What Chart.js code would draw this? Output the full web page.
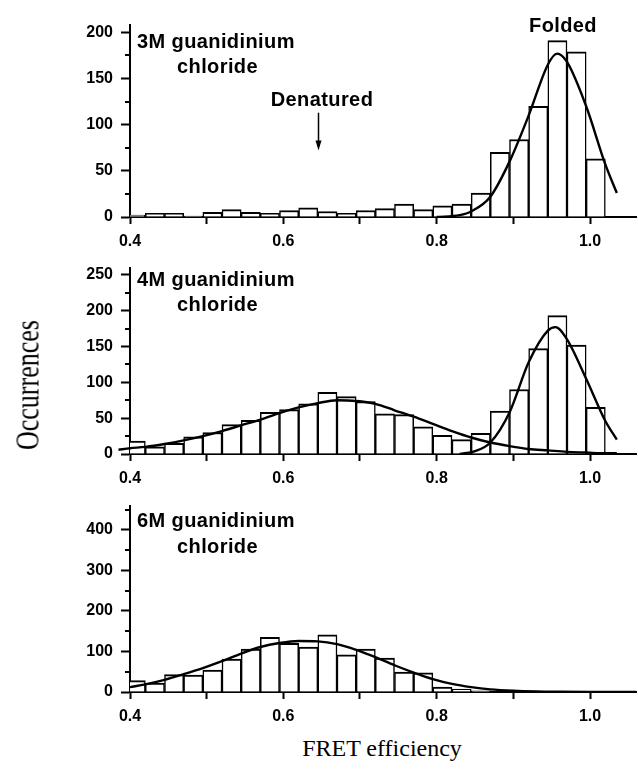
<!DOCTYPE html>
<html>
<head>
<meta charset="utf-8">
<script src="https://cdn.jsdelivr.net/npm/chart.js@4.4.0/dist/chart.umd.min.js"></script>
<style>
  body { margin: 0; background: #fff; width: 638px; height: 771px; position: relative; overflow: hidden;
         font-family: "Liberation Sans", Arial, sans-serif; }
  .pane { position: absolute; left: 0; width: 638px; }
  .lbl { position: absolute; font-weight: bold; font-size: 20px; letter-spacing: 0.4px; color: #000;
         white-space: nowrap; line-height: 1; transform: translateY(-50%); }
  .ctr { transform: translate(-50%, -50%); }
  .ttl { position: absolute; font-family: "Liberation Serif", "Times New Roman", serif; font-size: 24px;
         color: #000; white-space: nowrap; line-height: 1; transform: translate(-50%, -50%); }
</style>
</head>
<body>
<div class="pane" style="top:0;height:253px"><canvas id="c3M"></canvas></div>
<div class="pane" style="top:250px;height:240px"><canvas id="c4M"></canvas></div>
<div class="pane" style="top:488px;height:240px"><canvas id="c6M"></canvas></div>

<div class="lbl ctr" style="left:563px;top:25px">Folded</div>
<div class="lbl" style="left:137px;top:41px">3M guanidinium</div>
<div class="lbl" style="left:177px;top:66px">chloride</div>
<div class="lbl ctr" style="left:322px;top:99px">Denatured</div>
<div class="lbl" style="left:137px;top:279px">4M guanidinium</div>
<div class="lbl" style="left:177px;top:304px">chloride</div>
<div class="lbl" style="left:137px;top:520px">6M guanidinium</div>
<div class="lbl" style="left:177px;top:546px">chloride</div>
<div class="ttl" style="left:28px;top:385px;font-size:26px;transform:translate(-50%,-50%) rotate(-90deg) scaleY(1.3)">Occurrences</div>
<div class="ttl" style="left:382px;top:748px">FRET efficiency</div>

<script>
// histogram bins (width 0.025), centres on FRET efficiency
var binCenters = [0.4075, 0.4325, 0.4575, 0.4825, 0.5075, 0.5325, 0.5575, 0.5825, 0.6075, 0.6325,
                  0.6575, 0.6825, 0.7075, 0.7325, 0.7575, 0.7825, 0.8075, 0.8325, 0.8575, 0.8825,
                  0.9075, 0.9325, 0.9575, 0.9825, 1.0075];

var counts3M = [2, 4, 4, 1, 5, 8, 5, 4, 7, 10, 6, 4, 7, 9, 14, 8, 12, 14, 26, 70, 84, 120, 191, 179, 63];
var counts4M = [18, 10, 15, 24, 30, 41, 47, 58, 62, 70, 86, 80, 73, 56, 55, 38, 26, 20, 29, 60, 90, 147, 193, 152, 65];
var counts6M = [28, 22, 43, 42, 54, 81, 106, 135, 120, 111, 141, 92, 106, 84, 49, 47, 12, 7, 3, 0, 0, 0, 0, 0, 0];

// fitted curves
var fit3M_x = [0.80, 0.83, 0.845, 0.87, 0.895, 0.92, 0.945, 0.957, 0.97, 0.995, 1.02, 1.035];
var fit3M_y = [0, 2, 6, 22, 60, 110, 165, 177, 168, 120, 57, 26];

var fit4Mden_x = [0.385, 0.40, 0.42, 0.445, 0.47, 0.495, 0.52, 0.545, 0.57, 0.595, 0.62, 0.645, 0.67, 0.695,
                  0.72, 0.745, 0.77, 0.795, 0.82, 0.845, 0.87, 0.895, 0.92, 0.945, 0.97, 0.995, 1.02, 1.035];
var fit4Mden_y = [6, 8, 10, 14, 19, 25, 32, 40, 48, 57, 65, 71, 75, 74, 70, 61, 52, 42, 32, 23, 16, 11, 7, 5, 3, 2, 1, 1];
var fit4Mfold_x = [0.83, 0.85, 0.87, 0.895, 0.92, 0.945, 0.955, 0.97, 0.995, 1.02, 1.035];
var fit4Mfold_y = [0, 4, 16, 58, 128, 172, 177, 160, 105, 46, 20];

var fit6M_x = [0.40, 0.42, 0.445, 0.47, 0.495, 0.52, 0.545, 0.57, 0.595, 0.62, 0.645, 0.67, 0.695, 0.72,
               0.745, 0.77, 0.795, 0.82, 0.845, 0.87, 0.90, 0.93, 0.96, 1.00, 1.06];
var fit6M_y = [12, 19, 30, 44, 59, 76, 95, 111, 121, 126, 125, 118, 104, 86, 66, 48, 32, 20, 12, 6.5, 3, 1.2, 0.5, 0.1, 0];

var xTickValues = [0.4, 0.5, 0.6, 0.7, 0.8, 0.9, 1.0];
var xTickLabels = ['0.4', '0.6', '0.8', '1.0'];

var tickFont = { family: '"Liberation Sans", Arial, sans-serif', weight: 'bold', size: 16 };

/* short unlabeled ticks on the y axis */
var minorTicks = {
  id: 'minorTicks',
  afterDraw: function(chart, args, opts) {
    var y = chart.scales.y, ctx = chart.ctx;
    ctx.save();
    ctx.strokeStyle = '#000';
    ctx.lineWidth = 2;
    for (var v = opts.step; v < y.max; v += opts.step) {
      if (v % opts.major === 0) continue;
      var py = Math.round(y.getPixelForValue(v));
      ctx.beginPath(); ctx.moveTo(y.right - 5, py); ctx.lineTo(y.right, py); ctx.stroke();
    }
    ctx.restore();
  }
};

/* the "Denatured" arrow */
var arrowMark = {
  id: 'arrowMark',
  afterDraw: function(chart, args, opts) {
    var ctx = chart.ctx;
    var px = Math.round(chart.scales.x.getPixelForValue(opts.x)) + 0.5;
    var y1 = chart.scales.y.getPixelForValue(opts.from), y2 = chart.scales.y.getPixelForValue(opts.to);
    ctx.save();
    ctx.strokeStyle = '#000'; ctx.fillStyle = '#000'; ctx.lineWidth = 1.5;
    ctx.beginPath(); ctx.moveTo(px, y1); ctx.lineTo(px, y2 - 8); ctx.stroke();
    ctx.beginPath(); ctx.moveTo(px - 3, y2 - 10); ctx.lineTo(px + 3, y2 - 10); ctx.lineTo(px, y2); ctx.closePath(); ctx.fill();
    ctx.restore();
  }
};

function panel(id, counts, fits, yMax, major, minor, padTop, extra) {
  var datasets = fits.map(function(f) {
    var ds = {
      type: 'line',
      data: f.x.map(function(x, i) { return { x: x, y: f.y[i] }; }),
      borderColor: '#000', borderWidth: 2.4, pointRadius: 0,
      cubicInterpolationMode: 'monotone', fill: false, order: 0
    };
    if (f.noclip) ds.clip = false;
    return ds;
  });
  datasets.push({
    type: 'bar',
    data: binCenters.map(function(x, i) { return { x: x, y: counts[i] }; }),
    backgroundColor: '#fff', borderColor: '#000',
    borderWidth: { top: 2, left: 1.5, right: 1.5, bottom: 0 }, borderSkipped: false,
    barPercentage: 1, categoryPercentage: 1, grouped: false, order: 1
  });

  var plugins = [minorTicks];
  var pluginOpts = { legend: { display: false }, tooltip: { enabled: false },
                     minorTicks: { step: minor, major: major } };
  if (extra) { plugins.push(arrowMark); pluginOpts.arrowMark = extra; }

  return new Chart(document.getElementById(id), {
    type: 'bar',
    data: { datasets: datasets },
    plugins: plugins,
    options: {
      responsive: true, maintainAspectRatio: false, animation: false, events: [],
      layout: { padding: { top: padTop, right: 2, left: 0, bottom: 0 } },
      plugins: pluginOpts,
      scales: {
        x: {
          type: 'linear', min: 0.4, max: 1.06, bounds: 'data', offset: false,
          ticks: {
            autoSkip: false, maxRotation: 0, padding: 8,
            color: '#000', font: tickFont,
            callback: function(v) {
              var lab = v.toFixed(1);
              return xTickLabels.indexOf(lab) >= 0 ? lab : '';
            }
          },
          grid: { display: true, offset: false, drawOnChartArea: false, tickLength: 7, tickWidth: 2, tickColor: '#000' },
          border: { display: true, color: '#000', width: 2 },
          afterBuildTicks: function(s) {
            s.ticks = xTickValues.map(function(v) { return { value: v }; });
          },
          afterFit: function(s) { s.height = 36; }
        },
        y: {
          min: 0, max: yMax, bounds: 'data',
          ticks: { stepSize: major, padding: 8, color: '#000', font: tickFont },
          grid: { display: true, drawOnChartArea: false, tickLength: 9, tickWidth: 2, tickColor: '#000' },
          border: { display: true, color: '#000', width: 2 },
          afterBuildTicks: function(s) {
            s.ticks = s.ticks.filter(function(t) { return t.value % major === 0; });
          },
          afterFit: function(s) { s.width = 130; }
        }
      }
    }
  });
}

panel('c3M', counts3M, [{ x: fit3M_x, y: fit3M_y }], 208, 50, 25, 25, { x: 0.645, from: 113, to: 72 });
panel('c4M', counts4M, [{ x: fit4Mden_x, y: fit4Mden_y, noclip: true }, { x: fit4Mfold_x, y: fit4Mfold_y }], 260, 50, 25, 12, null);
panel('c6M', counts6M, [{ x: fit6M_x, y: fit6M_y }], 460, 100, 50, 12, null);
</script>
</body>
</html>
